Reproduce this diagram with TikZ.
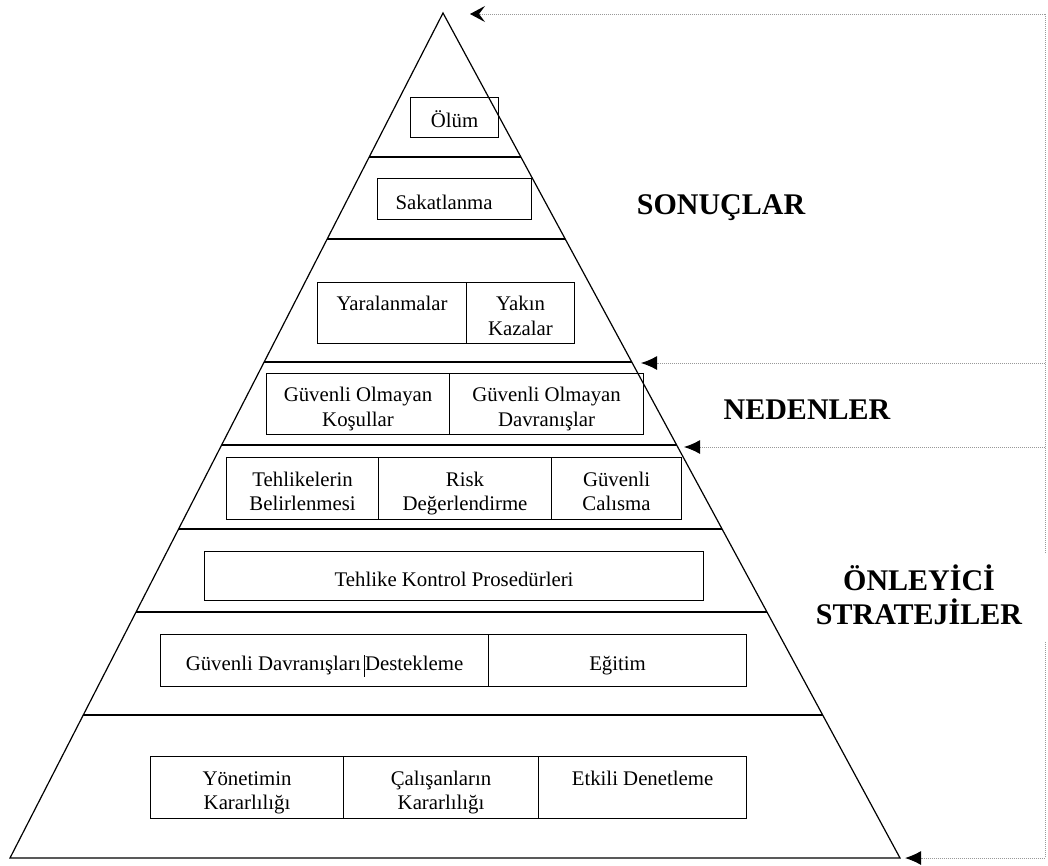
\documentclass[tikz,border=0pt]{standalone}
\usepackage{fontspec}
\setmainfont{Liberation Serif}
\usetikzlibrary{calc,arrows.meta}
\newcommand\cl[1]{\rule[-2.3pt]{0pt}{24.5pt}\smash{#1}}
\tikzset{
  cell/.style={draw, line width=1.1pt, inner sep=0pt, anchor=north west, align=center, font=\fontsize{20.8}{24.5}\selectfont},
  band/.style={line width=1.2pt},
  guide/.style={gray!80, densely dotted, line width=1pt},
  title/.style={font=\fontsize{30}{34}\selectfont\bfseries, align=center}
}
\begin{document}
\begin{tikzpicture}[x=1pt,y=-1pt]
\useasboundingbox (0,0) rectangle (1048,865);
% pyramid
\coordinate (apex) at (443,13);
\coordinate (bl) at (10,858);
\coordinate (br) at (900,858);
\draw[band, line join=miter] (apex) -- (br) -- (bl) -- cycle;
\foreach \yy in {157,239,362,445,529,612,715} {
    \pgfmathsetmacro\t{(\yy-13)/845}
    \draw[band] ($(apex)!\t!(bl)$) -- ($(apex)!\t!(br)$);
}
% cells
\node[cell, minimum width=88pt, minimum height=40pt] (olum) at (410,97) {\cl{Ölüm}};
\node[cell, minimum width=154pt, minimum height=41pt, text width=118pt, inner xsep=18pt, align=left] (sakat) at (377,178) {\cl{Sakatlanma}};
\node[cell, minimum width=149pt, minimum height=61pt] (yaral) at (317,282) {\cl{Yaralanmalar}\\\cl{}};
\node[cell, minimum width=108pt, minimum height=61pt] (yakin) at (466,282) {\cl{Yakın}\\\cl{Kazalar}};
\node[cell, minimum width=183pt, minimum height=61pt] (kosul) at (266,373) {\cl{Güvenli Olmayan}\\\cl{Koşullar}};
\node[cell, minimum width=194pt, minimum height=61pt] (davran) at (449,373) {\cl{Güvenli Olmayan}\\\cl{Davranışlar}};
\node[cell, minimum width=152pt, minimum height=62pt] (tehlk) at (226,457) {\cl{Tehlikelerin}\\\cl{Belirlenmesi}};
\node[cell, minimum width=173pt, minimum height=62pt] (risk) at (378,457) {\cl{Risk}\\\cl{Değerlendirme}};
\node[cell, minimum width=130pt, minimum height=62pt] (calis) at (551,457) {\cl{Güvenli}\\\cl{Calısma}};
\node[cell, minimum width=499pt, minimum height=49pt] (prosed) at (204,551) {\cl{Tehlike Kontrol Prosedürleri}};
\node[cell, minimum width=328pt, minimum height=52pt] (destek) at (160,634) {\cl{Güvenli Davranışları\,\rule[-6pt]{0.8pt}{22pt}Destekleme}};
\node[cell, minimum width=258pt, minimum height=52pt] (egitim) at (488,634) {\cl{Eğitim}};
\node[cell, minimum width=193pt, minimum height=62pt] (yonet) at (150,756) {\cl{Yönetimin}\\\cl{Kararlılığı}};
\node[cell, minimum width=195pt, minimum height=62pt] (calisan) at (343,756) {\cl{Çalışanların}\\\cl{Kararlılığı}};
\node[cell, minimum width=208pt, minimum height=62pt] (denet) at (538,756) {\cl{Etkili Denetleme}\\\cl{}};
% section titles
\node[title] (sonuc) at (721,208) {SONUÇLAR};
\node[title] (neden) at (807,410) {NEDENLER};
\node[title] (onley) at (919,595) {ÖNLEYİCİ\\STRATEJİLER};
% dotted guides
\coordinate (r0) at (1045,14);
\coordinate (r1) at (1045,363);
\coordinate (r2) at (1045,447);
\coordinate (r3) at (1045,858);
\coordinate (ga) at (1045,553);
\coordinate (gb) at (1045,642);
\coordinate (t0) at (470,14);
\coordinate (t1) at (641,363);
\coordinate (t2) at (684,447);
\coordinate (t3) at (905,858);
\draw[guide] (r0) -- (ga) (gb) -- (r3);
\draw[guide, -{Stealth[black, length=15pt, width=16pt, inset=6pt]}] (r0) -- (t0);
\foreach \i in {1,2,3}
    \draw[guide, -{Latex[black, length=16pt, width=14pt]}] (r\i) -- (t\i);
\end{tikzpicture}
\end{document}
